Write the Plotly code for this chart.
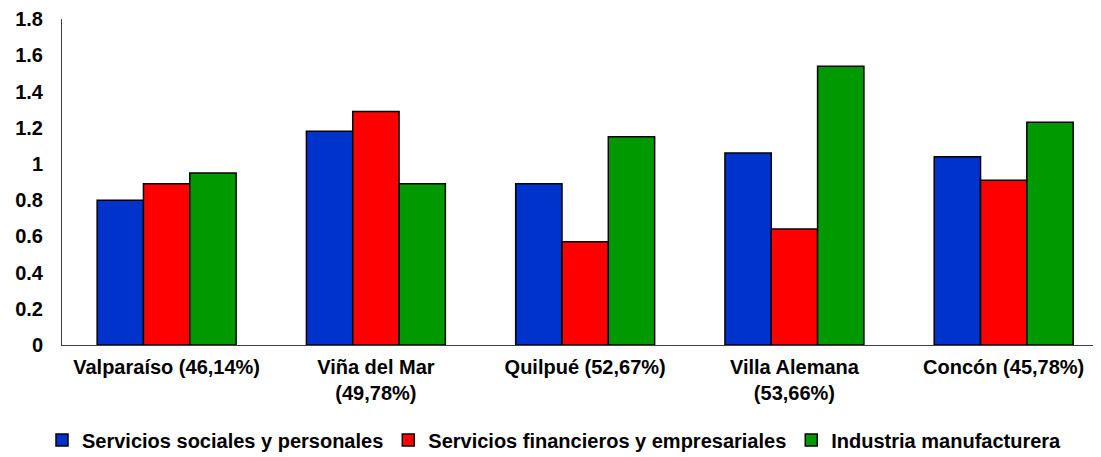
import plotly.graph_objects as go

categories = ["Valparaíso (46,14%)", "Viña del Mar<br>(49,78%)", "Quilpué (52,67%)",
              "Villa Alemana<br>(53,66%)", "Concón (45,78%)"]
series_names = ["Servicios sociales y personales", "Servicios financieros y empresariales",
                "Industria manufacturera"]
sociales = [0.80, 1.18, 0.89, 1.06, 1.04]
financieros = [0.89, 1.29, 0.57, 0.64, 0.91]
industria = [0.95, 0.89, 1.15, 1.54, 1.23]
colors = ["#0033CC", "#FF0000", "#009900"]
y_ticks = [0, 0.2, 0.4, 0.6, 0.8, 1, 1.2, 1.4, 1.6, 1.8]
y_tick_text = ["0", "0.2", "0.4", "0.6", "0.8", "1", "1.2", "1.4", "1.6", "1.8"]

fig = go.Figure()
for name, vals, col in zip(series_names, [sociales, financieros, industria], colors):
    fig.add_trace(go.Bar(x=categories, y=vals, name=name,
                         marker=dict(color=col, line=dict(color="black", width=1.5))))

font = dict(family="Liberation Sans, Arial, sans-serif", size=20, color="black", weight="bold")
fig.update_layout(
    width=1093, height=449,
    margin=dict(l=54, r=0, t=11, b=112, autoexpand=False),
    plot_bgcolor="white", paper_bgcolor="white",
    barmode="group", bargap=0.336, bargroupgap=0,
    font=font,
    showlegend=True,
    legend=dict(orientation="h", x=0.5, xanchor="center", xref="container",
                y=0.038, yanchor="middle", yref="container",
                font=font, itemwidth=30, traceorder="normal"),
    xaxis=dict(range=[-0.5, 4.465], showline=True, linecolor="#404040", linewidth=1,
               ticks="", showgrid=False, tickfont=font, automargin=False,
               ticklabelstandoff=4),
    yaxis=dict(range=[0, 1.8005], tickvals=y_ticks, ticktext=y_tick_text, showline=True,
               linecolor="#404040", linewidth=1, ticks="", showgrid=False, zeroline=False,
               tickfont=font, automargin=False, ticklabelstandoff=14,
               ticklabeloverflow="allow"),
)
fig.write_html("out.html")
